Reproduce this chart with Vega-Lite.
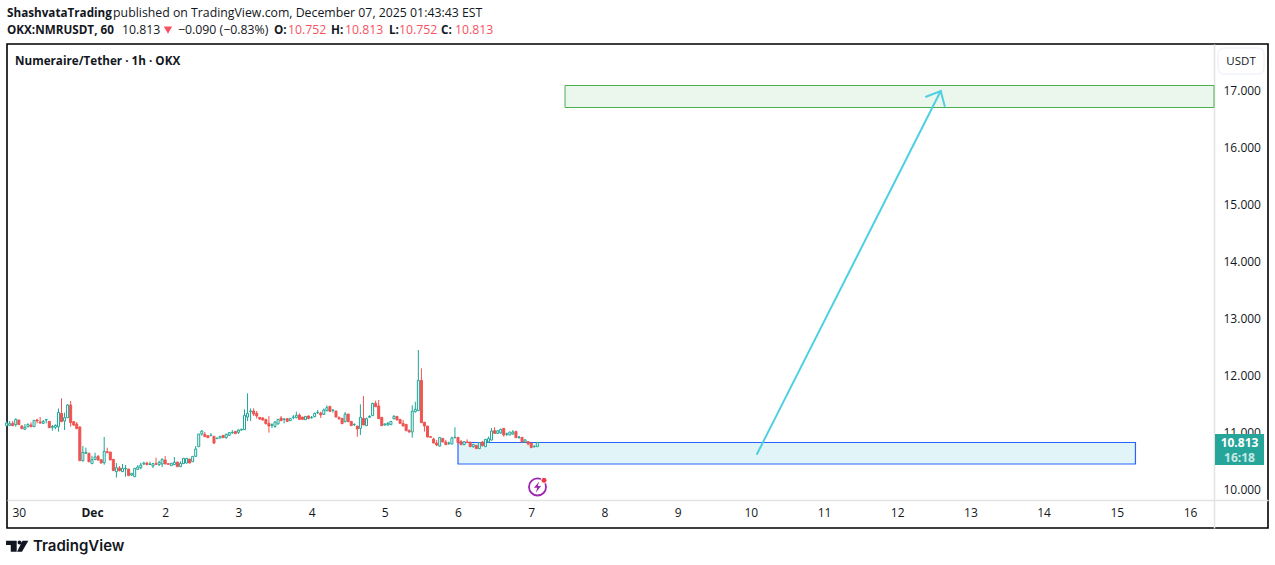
{
  "$schema": "https://vega.github.io/schema/vega-lite/v6.json",
  "description": "NMRUSDT 1h candles with buy zone, target zone and projected arrow",
  "width": 1261,
  "height": 484,
  "autosize": "none",
  "padding": {"left": 7, "top": 44, "right": 7, "bottom": 37},
  "background": "#ffffff",
  "config": {
    "font": "Open Sans",
    "view": {"stroke": "#000000", "strokeWidth": 1.6}
  },
  "datasets": {
    "candles": [
      {"t":"2025-11-29T20:00Z","o":11.096,"h":11.178,"l":11.078,"c":11.143},
      {"t":"2025-11-29T21:00Z","o":11.102,"h":11.178,"l":11.09,"c":11.131},
      {"t":"2025-11-29T22:00Z","o":11.137,"h":11.178,"l":11.09,"c":11.096},
      {"t":"2025-11-29T23:00Z","o":11.114,"h":11.225,"l":11.078,"c":11.207},
      {"t":"2025-11-30T00:00Z","o":11.196,"h":11.196,"l":11.114,"c":11.114},
      {"t":"2025-11-30T01:00Z","o":11.09,"h":11.108,"l":11.043,"c":11.043},
      {"t":"2025-11-30T02:00Z","o":11.032,"h":11.125,"l":11.032,"c":11.067},
      {"t":"2025-11-30T03:00Z","o":11.078,"h":11.137,"l":11.067,"c":11.119},
      {"t":"2025-11-30T04:00Z","o":11.108,"h":11.155,"l":11.078,"c":11.078},
      {"t":"2025-11-30T05:00Z","o":11.078,"h":11.19,"l":11.078,"c":11.19},
      {"t":"2025-11-30T06:00Z","o":11.196,"h":11.219,"l":11.137,"c":11.178},
      {"t":"2025-11-30T07:00Z","o":11.16,"h":11.248,"l":11.131,"c":11.143},
      {"t":"2025-11-30T08:00Z","o":11.137,"h":11.196,"l":11.125,"c":11.172},
      {"t":"2025-11-30T09:00Z","o":11.196,"h":11.207,"l":11.137,"c":11.207},
      {"t":"2025-11-30T10:00Z","o":11.172,"h":11.172,"l":11.061,"c":11.061},
      {"t":"2025-11-30T11:00Z","o":11.067,"h":11.108,"l":11.008,"c":11.084},
      {"t":"2025-11-30T12:00Z","o":11.067,"h":11.119,"l":11.032,"c":11.102},
      {"t":"2025-11-30T13:00Z","o":11.078,"h":11.4,"l":10.991,"c":11.33},
      {"t":"2025-11-30T14:00Z","o":11.313,"h":11.577,"l":11.166,"c":11.166},
      {"t":"2025-11-30T15:00Z","o":11.178,"h":11.325,"l":11.02,"c":11.237},
      {"t":"2025-11-30T16:00Z","o":11.237,"h":11.477,"l":11.237,"c":11.46},
      {"t":"2025-11-30T17:00Z","o":11.46,"h":11.53,"l":11.078,"c":11.149},
      {"t":"2025-11-30T18:00Z","o":11.166,"h":11.178,"l":11.09,"c":11.108},
      {"t":"2025-11-30T19:00Z","o":11.125,"h":11.16,"l":11.043,"c":11.043},
      {"t":"2025-11-30T20:00Z","o":11.073,"h":11.084,"l":10.48,"c":10.48},
      {"t":"2025-11-30T21:00Z","o":10.48,"h":10.738,"l":10.463,"c":10.627},
      {"t":"2025-11-30T22:00Z","o":10.61,"h":10.709,"l":10.598,"c":10.627},
      {"t":"2025-11-30T23:00Z","o":10.61,"h":10.621,"l":10.451,"c":10.463},
      {"t":"2025-12-01T00:00Z","o":10.428,"h":10.568,"l":10.422,"c":10.498},
      {"t":"2025-12-01T01:00Z","o":10.498,"h":10.621,"l":10.492,"c":10.545},
      {"t":"2025-12-01T02:00Z","o":10.557,"h":10.58,"l":10.48,"c":10.492},
      {"t":"2025-12-01T03:00Z","o":10.498,"h":10.498,"l":10.439,"c":10.439},
      {"t":"2025-12-01T04:00Z","o":10.445,"h":10.897,"l":10.41,"c":10.645},
      {"t":"2025-12-01T05:00Z","o":10.639,"h":10.709,"l":10.621,"c":10.621},
      {"t":"2025-12-01T06:00Z","o":10.633,"h":10.633,"l":10.492,"c":10.492},
      {"t":"2025-12-01T07:00Z","o":10.504,"h":10.504,"l":10.305,"c":10.305},
      {"t":"2025-12-01T08:00Z","o":10.287,"h":10.439,"l":10.182,"c":10.357},
      {"t":"2025-12-01T09:00Z","o":10.352,"h":10.387,"l":10.293,"c":10.305},
      {"t":"2025-12-01T10:00Z","o":10.287,"h":10.422,"l":10.287,"c":10.346},
      {"t":"2025-12-01T11:00Z","o":10.334,"h":10.404,"l":10.199,"c":10.346},
      {"t":"2025-12-01T12:00Z","o":10.334,"h":10.334,"l":10.217,"c":10.217},
      {"t":"2025-12-01T13:00Z","o":10.228,"h":10.258,"l":10.211,"c":10.258},
      {"t":"2025-12-01T14:00Z","o":10.199,"h":10.346,"l":10.199,"c":10.346},
      {"t":"2025-12-01T15:00Z","o":10.328,"h":10.404,"l":10.316,"c":10.369},
      {"t":"2025-12-01T16:00Z","o":10.357,"h":10.445,"l":10.328,"c":10.404},
      {"t":"2025-12-01T17:00Z","o":10.422,"h":10.463,"l":10.404,"c":10.439},
      {"t":"2025-12-01T18:00Z","o":10.439,"h":10.463,"l":10.404,"c":10.41},
      {"t":"2025-12-01T19:00Z","o":10.416,"h":10.463,"l":10.404,"c":10.422},
      {"t":"2025-12-01T20:00Z","o":10.387,"h":10.434,"l":10.352,"c":10.428},
      {"t":"2025-12-01T21:00Z","o":10.428,"h":10.533,"l":10.404,"c":10.416},
      {"t":"2025-12-01T22:00Z","o":10.41,"h":10.48,"l":10.387,"c":10.451},
      {"t":"2025-12-01T23:00Z","o":10.422,"h":10.522,"l":10.369,"c":10.504},
      {"t":"2025-12-02T00:00Z","o":10.492,"h":10.562,"l":10.422,"c":10.422},
      {"t":"2025-12-02T01:00Z","o":10.428,"h":10.428,"l":10.416,"c":10.416},
      {"t":"2025-12-02T02:00Z","o":10.393,"h":10.434,"l":10.393,"c":10.434},
      {"t":"2025-12-02T03:00Z","o":10.41,"h":10.545,"l":10.404,"c":10.451},
      {"t":"2025-12-02T04:00Z","o":10.457,"h":10.457,"l":10.375,"c":10.375},
      {"t":"2025-12-02T05:00Z","o":10.375,"h":10.469,"l":10.375,"c":10.434},
      {"t":"2025-12-02T06:00Z","o":10.428,"h":10.522,"l":10.428,"c":10.522},
      {"t":"2025-12-02T07:00Z","o":10.439,"h":10.522,"l":10.434,"c":10.522},
      {"t":"2025-12-02T08:00Z","o":10.51,"h":10.51,"l":10.439,"c":10.439},
      {"t":"2025-12-02T09:00Z","o":10.463,"h":10.557,"l":10.463,"c":10.557},
      {"t":"2025-12-02T10:00Z","o":10.557,"h":10.738,"l":10.551,"c":10.686},
      {"t":"2025-12-02T11:00Z","o":10.727,"h":10.95,"l":10.727,"c":10.95},
      {"t":"2025-12-02T12:00Z","o":10.95,"h":11.02,"l":10.92,"c":11.002},
      {"t":"2025-12-02T13:00Z","o":10.944,"h":10.985,"l":10.903,"c":10.903},
      {"t":"2025-12-02T14:00Z","o":10.92,"h":10.92,"l":10.885,"c":10.885},
      {"t":"2025-12-02T15:00Z","o":10.92,"h":10.967,"l":10.914,"c":10.926},
      {"t":"2025-12-02T16:00Z","o":10.909,"h":10.914,"l":10.774,"c":10.791},
      {"t":"2025-12-02T17:00Z","o":10.868,"h":10.879,"l":10.868,"c":10.879},
      {"t":"2025-12-02T18:00Z","o":10.879,"h":10.909,"l":10.879,"c":10.909},
      {"t":"2025-12-02T19:00Z","o":10.926,"h":10.926,"l":10.885,"c":10.885},
      {"t":"2025-12-02T20:00Z","o":10.885,"h":10.955,"l":10.868,"c":10.944},
      {"t":"2025-12-02T21:00Z","o":10.926,"h":10.985,"l":10.914,"c":10.973},
      {"t":"2025-12-02T22:00Z","o":10.967,"h":11.02,"l":10.961,"c":10.979},
      {"t":"2025-12-02T23:00Z","o":10.996,"h":10.996,"l":10.955,"c":10.955},
      {"t":"2025-12-03T00:00Z","o":10.979,"h":11.032,"l":10.95,"c":11.02},
      {"t":"2025-12-03T01:00Z","o":11.02,"h":11.043,"l":11.008,"c":11.032},
      {"t":"2025-12-03T02:00Z","o":11.026,"h":11.383,"l":11.026,"c":11.278},
      {"t":"2025-12-03T03:00Z","o":11.248,"h":11.665,"l":11.178,"c":11.313},
      {"t":"2025-12-03T04:00Z","o":11.342,"h":11.4,"l":11.178,"c":11.354},
      {"t":"2025-12-03T05:00Z","o":11.354,"h":11.4,"l":11.266,"c":11.301},
      {"t":"2025-12-03T06:00Z","o":11.313,"h":11.354,"l":11.225,"c":11.266},
      {"t":"2025-12-03T07:00Z","o":11.243,"h":11.243,"l":11.196,"c":11.213},
      {"t":"2025-12-03T08:00Z","o":11.231,"h":11.248,"l":11.184,"c":11.196},
      {"t":"2025-12-03T09:00Z","o":11.201,"h":11.219,"l":11.119,"c":11.131},
      {"t":"2025-12-03T10:00Z","o":11.137,"h":11.266,"l":10.973,"c":11.09},
      {"t":"2025-12-03T11:00Z","o":11.102,"h":11.137,"l":11.055,"c":11.114},
      {"t":"2025-12-03T12:00Z","o":11.084,"h":11.178,"l":11.061,"c":11.16},
      {"t":"2025-12-03T13:00Z","o":11.125,"h":11.207,"l":11.125,"c":11.207},
      {"t":"2025-12-03T14:00Z","o":11.231,"h":11.266,"l":11.184,"c":11.184},
      {"t":"2025-12-03T15:00Z","o":11.207,"h":11.225,"l":11.137,"c":11.213},
      {"t":"2025-12-03T16:00Z","o":11.219,"h":11.231,"l":11.16,"c":11.172},
      {"t":"2025-12-03T17:00Z","o":11.184,"h":11.225,"l":11.184,"c":11.225},
      {"t":"2025-12-03T18:00Z","o":11.243,"h":11.284,"l":11.207,"c":11.248},
      {"t":"2025-12-03T19:00Z","o":11.237,"h":11.342,"l":11.225,"c":11.278},
      {"t":"2025-12-03T20:00Z","o":11.284,"h":11.313,"l":11.196,"c":11.207},
      {"t":"2025-12-03T21:00Z","o":11.248,"h":11.248,"l":11.207,"c":11.207},
      {"t":"2025-12-03T22:00Z","o":11.201,"h":11.26,"l":11.201,"c":11.26},
      {"t":"2025-12-03T23:00Z","o":11.266,"h":11.278,"l":11.207,"c":11.225},
      {"t":"2025-12-04T00:00Z","o":11.237,"h":11.266,"l":11.219,"c":11.243},
      {"t":"2025-12-04T01:00Z","o":11.254,"h":11.325,"l":11.243,"c":11.313},
      {"t":"2025-12-04T02:00Z","o":11.325,"h":11.372,"l":11.301,"c":11.33},
      {"t":"2025-12-04T03:00Z","o":11.319,"h":11.342,"l":11.231,"c":11.284},
      {"t":"2025-12-04T04:00Z","o":11.295,"h":11.4,"l":11.284,"c":11.372},
      {"t":"2025-12-04T05:00Z","o":11.36,"h":11.454,"l":11.348,"c":11.412},
      {"t":"2025-12-04T06:00Z","o":11.436,"h":11.436,"l":11.348,"c":11.348},
      {"t":"2025-12-04T07:00Z","o":11.366,"h":11.383,"l":11.325,"c":11.372},
      {"t":"2025-12-04T08:00Z","o":11.354,"h":11.354,"l":11.248,"c":11.248},
      {"t":"2025-12-04T09:00Z","o":11.243,"h":11.254,"l":11.196,"c":11.219},
      {"t":"2025-12-04T10:00Z","o":11.225,"h":11.225,"l":11.131,"c":11.131},
      {"t":"2025-12-04T11:00Z","o":11.166,"h":11.336,"l":11.155,"c":11.301},
      {"t":"2025-12-04T12:00Z","o":11.301,"h":11.301,"l":11.166,"c":11.166},
      {"t":"2025-12-04T13:00Z","o":11.172,"h":11.172,"l":11.096,"c":11.096},
      {"t":"2025-12-04T14:00Z","o":11.114,"h":11.137,"l":11.09,"c":11.119},
      {"t":"2025-12-04T15:00Z","o":11.09,"h":11.09,"l":10.903,"c":11.037},
      {"t":"2025-12-04T16:00Z","o":11.049,"h":11.471,"l":10.932,"c":11.243},
      {"t":"2025-12-04T17:00Z","o":11.225,"h":11.618,"l":11.108,"c":11.108},
      {"t":"2025-12-04T18:00Z","o":11.096,"h":11.237,"l":11.096,"c":11.219},
      {"t":"2025-12-04T19:00Z","o":11.243,"h":11.278,"l":11.237,"c":11.26},
      {"t":"2025-12-04T20:00Z","o":11.272,"h":11.5,"l":11.266,"c":11.489},
      {"t":"2025-12-04T21:00Z","o":11.489,"h":11.536,"l":11.43,"c":11.43},
      {"t":"2025-12-04T22:00Z","o":11.442,"h":11.547,"l":11.219,"c":11.219},
      {"t":"2025-12-04T23:00Z","o":11.243,"h":11.243,"l":11.096,"c":11.096},
      {"t":"2025-12-05T00:00Z","o":11.108,"h":11.137,"l":11.096,"c":11.125},
      {"t":"2025-12-05T01:00Z","o":11.108,"h":11.16,"l":11.096,"c":11.137},
      {"t":"2025-12-05T02:00Z","o":11.114,"h":11.172,"l":11.114,"c":11.172},
      {"t":"2025-12-05T03:00Z","o":11.219,"h":11.284,"l":11.207,"c":11.26},
      {"t":"2025-12-05T04:00Z","o":11.26,"h":11.26,"l":11.196,"c":11.196},
      {"t":"2025-12-05T05:00Z","o":11.207,"h":11.207,"l":11.137,"c":11.137},
      {"t":"2025-12-05T06:00Z","o":11.137,"h":11.196,"l":11.09,"c":11.09},
      {"t":"2025-12-05T07:00Z","o":11.119,"h":11.119,"l":11.008,"c":11.008},
      {"t":"2025-12-05T08:00Z","o":11.008,"h":11.032,"l":10.973,"c":10.985},
      {"t":"2025-12-05T09:00Z","o":10.985,"h":11.454,"l":10.885,"c":11.348},
      {"t":"2025-12-05T10:00Z","o":11.342,"h":11.518,"l":11.325,"c":11.383},
      {"t":"2025-12-05T11:00Z","o":11.36,"h":12.427,"l":11.36,"c":11.893},
      {"t":"2025-12-05T12:00Z","o":11.893,"h":12.104,"l":11.149,"c":11.149},
      {"t":"2025-12-05T13:00Z","o":11.155,"h":11.166,"l":10.991,"c":11.09},
      {"t":"2025-12-05T14:00Z","o":11.09,"h":11.09,"l":10.891,"c":10.897},
      {"t":"2025-12-05T15:00Z","o":10.903,"h":10.903,"l":10.891,"c":10.891},
      {"t":"2025-12-05T16:00Z","o":10.862,"h":10.885,"l":10.785,"c":10.791},
      {"t":"2025-12-05T17:00Z","o":10.791,"h":10.844,"l":10.738,"c":10.756},
      {"t":"2025-12-05T18:00Z","o":10.738,"h":10.897,"l":10.727,"c":10.885},
      {"t":"2025-12-05T19:00Z","o":10.873,"h":10.873,"l":10.809,"c":10.809},
      {"t":"2025-12-05T20:00Z","o":10.809,"h":10.844,"l":10.756,"c":10.762},
      {"t":"2025-12-05T21:00Z","o":10.785,"h":10.815,"l":10.756,"c":10.791},
      {"t":"2025-12-05T22:00Z","o":10.774,"h":10.903,"l":10.768,"c":10.879},
      {"t":"2025-12-05T23:00Z","o":10.885,"h":11.067,"l":10.873,"c":10.891},
      {"t":"2025-12-06T00:00Z","o":10.891,"h":10.891,"l":10.797,"c":10.797},
      {"t":"2025-12-06T01:00Z","o":10.815,"h":10.844,"l":10.756,"c":10.762},
      {"t":"2025-12-06T02:00Z","o":10.762,"h":10.815,"l":10.762,"c":10.815},
      {"t":"2025-12-06T03:00Z","o":10.809,"h":10.856,"l":10.791,"c":10.803},
      {"t":"2025-12-06T04:00Z","o":10.809,"h":10.809,"l":10.727,"c":10.727},
      {"t":"2025-12-06T05:00Z","o":10.727,"h":10.774,"l":10.709,"c":10.768},
      {"t":"2025-12-06T06:00Z","o":10.75,"h":10.75,"l":10.692,"c":10.692},
      {"t":"2025-12-06T07:00Z","o":10.692,"h":10.797,"l":10.692,"c":10.797},
      {"t":"2025-12-06T08:00Z","o":10.809,"h":10.827,"l":10.733,"c":10.744},
      {"t":"2025-12-06T09:00Z","o":10.727,"h":10.856,"l":10.727,"c":10.856},
      {"t":"2025-12-06T10:00Z","o":10.809,"h":10.903,"l":10.797,"c":10.868},
      {"t":"2025-12-06T11:00Z","o":10.844,"h":11.055,"l":10.832,"c":11.002},
      {"t":"2025-12-06T12:00Z","o":11.008,"h":11.067,"l":10.95,"c":10.961},
      {"t":"2025-12-06T13:00Z","o":10.961,"h":11.008,"l":10.961,"c":11.008},
      {"t":"2025-12-06T14:00Z","o":10.967,"h":11.043,"l":10.955,"c":11.032},
      {"t":"2025-12-06T15:00Z","o":11.049,"h":11.049,"l":10.903,"c":10.932},
      {"t":"2025-12-06T16:00Z","o":10.944,"h":10.973,"l":10.914,"c":10.955},
      {"t":"2025-12-06T17:00Z","o":10.932,"h":10.985,"l":10.932,"c":10.985},
      {"t":"2025-12-06T18:00Z","o":10.95,"h":11.02,"l":10.938,"c":10.985},
      {"t":"2025-12-06T19:00Z","o":10.996,"h":10.996,"l":10.885,"c":10.885},
      {"t":"2025-12-06T20:00Z","o":10.885,"h":10.914,"l":10.868,"c":10.897},
      {"t":"2025-12-06T21:00Z","o":10.891,"h":10.891,"l":10.809,"c":10.809},
      {"t":"2025-12-06T22:00Z","o":10.809,"h":10.862,"l":10.797,"c":10.844},
      {"t":"2025-12-06T23:00Z","o":10.815,"h":10.821,"l":10.75,"c":10.774},
      {"t":"2025-12-07T00:00Z","o":10.791,"h":10.791,"l":10.709,"c":10.709},
      {"t":"2025-12-07T01:00Z","o":10.727,"h":10.75,"l":10.709,"c":10.733},
      {"t":"2025-12-07T02:00Z","o":10.727,"h":10.803,"l":10.727,"c":10.803}
    ],
    "arrow": [
      {"part":"shaft","n":1,"t":"2025-12-10T02:02Z","p":10.598},
      {"part":"shaft","n":2,"t":"2025-12-12T14:16Z","p":16.982},
      {"part":"head","n":1,"t":"2025-12-12T09:26Z","p":16.882},
      {"part":"head","n":2,"t":"2025-12-12T14:16Z","p":16.982},
      {"part":"head","n":3,"t":"2025-12-12T15:34Z","p":16.719}
    ],
    "labels": [
      {"kind":"bold","text":"ShashvataTrading","t":"2025-11-29T20:08Z","p":18.36},
      {"kind":"regular","text":"published on TradingView.com, December 07, 2025 01:43:43 EST","t":"2025-12-01T06:55Z","p":18.36},
      {"kind":"bold","text":"OKX:NMRUSDT, 60","t":"2025-11-29T20:08Z","p":18.06},
      {"kind":"regular","text":"10.813","t":"2025-12-01T09:50Z","p":18.06},
      {"kind":"regular","text":"−0.090 (−0.83%)","t":"2025-12-02T04:12Z","p":18.06},
      {"kind":"bold","text":"O:","t":"2025-12-03T11:40Z","p":18.06},
      {"kind":"red","text":"10.752","t":"2025-12-03T16:16Z","p":18.06},
      {"kind":"bold","text":"H:","t":"2025-12-04T06:22Z","p":18.06},
      {"kind":"red","text":"10.813","t":"2025-12-04T10:57Z","p":18.06},
      {"kind":"bold","text":"L:","t":"2025-12-05T01:23Z","p":18.06},
      {"kind":"red","text":"10.752","t":"2025-12-05T04:39Z","p":18.06},
      {"kind":"bold","text":"C:","t":"2025-12-05T18:26Z","p":18.06},
      {"kind":"red","text":"10.813","t":"2025-12-05T23:01Z","p":18.06},
      {"kind":"bold","text":"Numeraire/Tether · 1h · OKX","t":"2025-11-29T22:45Z","p":17.51}
    ]
  },
  "encoding": {
    "x": {
      "field": "t",
      "type": "temporal",
      "title": null,
      "scale": {"type": "utc", "domain": [1764446872320, 1765935267840], "padding": 0},
      "axis": {
        "orient": "bottom",
        "offset": -28,
        "values": [1764460800000, 1764547200000, 1764633600000, 1764720000000, 1764806400000, 1764892800000, 1764979200000, 1765065600000, 1765152000000, 1765238400000, 1765324800000, 1765411200000, 1765497600000, 1765584000000, 1765670400000, 1765756800000, 1765843200000],
        "labelExpr": "utcdate(datum.value) == 1 ? 'Dec' : utcdate(datum.value)",
        "labelFontWeight": {"condition": {"test": "utcdate(datum.value) == 1", "value": "bold"}, "value": "normal"},
        "labelFontSize": 12,
        "labelColor": "#131722",
        "labelPadding": 7,
        "labelFlush": false,
        "labelOverlap": false,
        "ticks": false,
        "grid": false,
        "domainColor": "#e3e3e3",
        "domainWidth": 1.5
      }
    },
    "y": {
      "type": "quantitative",
      "title": null,
      "scale": {"domain": [9.2965, 17.809], "nice": false, "zero": false},
      "axis": {
        "orient": "right",
        "offset": -54,
        "values": [10, 11, 12, 13, 14, 15, 16, 17],
        "format": ".3f",
        "labelFontSize": 12,
        "labelColor": "#131722",
        "labelPadding": 9,
        "labelOffset": 1,
        "ticks": false,
        "grid": false,
        "domainColor": "#e3e3e3",
        "domainWidth": 1.5
      }
    }
  },
  "layer": [
    {
      "data": {"values": [{"t":"2025-12-07T11:05Z","t2":"2025-12-16T07:52Z","p":17.079,"p2":16.692}]},
      "mark": {"type": "rect", "fill": "#ebf6ec", "stroke": "#4caf50", "strokeWidth": 1},
      "encoding": {"x2": {"field": "t2"}, "y": {"field": "p"}, "y2": {"field": "p2"}}
    },
    {
      "data": {"values": [{"t":"2025-12-06T00:00Z","t2":"2025-12-15T06:07Z","p":10.8,"p2":10.422}]},
      "mark": {"type": "rect", "fill": "#e1f5f9", "stroke": "#2962ff", "strokeWidth": 1.2},
      "encoding": {"x2": {"field": "t2"}, "y": {"field": "p"}, "y2": {"field": "p2"}}
    },
    {
      "data": {"name": "candles"},
      "mark": {"type": "rule", "strokeWidth": 1},
      "encoding": {
        "y": {"field": "l"},
        "y2": {"field": "h"},
        "color": {"condition": {"test": "datum.c >= datum.o", "value": "#1fa596"}, "value": "#ef5350"}
      }
    },
    {
      "data": {"name": "candles"},
      "mark": {"type": "bar", "orient": "vertical", "size": 2, "strokeWidth": 1},
      "encoding": {
        "y": {"field": "o"},
        "y2": {"field": "c"},
        "fill": {"condition": {"test": "datum.c >= datum.o", "value": "#ffffff"}, "value": "#ef5350"},
        "stroke": {"condition": {"test": "datum.c >= datum.o", "value": "#1fa596"}, "value": "#ef5350"}
      }
    },
    {
      "data": {"name": "arrow"},
      "mark": {"type": "line", "color": "#4dd0e1", "strokeWidth": 2, "strokeCap": "round", "strokeJoin": "miter"},
      "encoding": {
        "y": {"field": "p"},
        "detail": {"field": "part"},
        "order": {"field": "n"}
      }
    },
    {
      "data": {"values": [{"t":"2025-12-07T02:04Z","p":10.018}]},
      "mark": {"type": "point", "shape": "circle", "size": 290, "filled": false, "stroke": "#9c27b0", "strokeWidth": 1.8, "opacity": 1},
      "encoding": {"y": {"field": "p"}}
    },
    {
      "data": {"values": [{"t":"2025-12-07T02:04Z","p":10.018}]},
      "mark": {"type": "point", "shape": "M0.3,-1 L-0.65,0.15 L-0.05,0.15 L-0.3,1 L0.65,-0.2 L0.05,-0.2 Z", "size": 120, "filled": true, "fill": "#9c27b0", "opacity": 1},
      "encoding": {"y": {"field": "p"}}
    },
    {
      "data": {"values": [{"t":"2025-12-07T04:12Z","p":10.135}]},
      "mark": {"type": "point", "shape": "circle", "size": 36, "filled": true, "fill": "#f23645", "stroke": "#ffffff", "strokeWidth": 1, "opacity": 1},
      "encoding": {"y": {"field": "p"}}
    },
    {
      "data": {"values": [{"t":"2025-12-16T08:12Z","t2":"2025-12-17T00:16Z","p":10.95,"p2":10.404}]},
      "mark": {"type": "rect", "fill": "#26a69a"},
      "encoding": {"x2": {"field": "t2"}, "y": {"field": "p"}, "y2": {"field": "p2"}}
    },
    {
      "data": {"values": [{"t":"2025-12-16T09:12Z","t2":"2025-12-17T00:16Z","p":17.738,"p2":17.281}]},
      "mark": {"type": "rect", "fill": "#ffffff", "stroke": "#f0f3fa", "strokeWidth": 1.5, "cornerRadius": 6},
      "encoding": {"x2": {"field": "t2"}, "y": {"field": "p"}, "y2": {"field": "p2"}}
    },
    {
      "data": {"values": [{"t":"2025-12-16T16:44Z","p":17.495,"text":"USDT"}]},
      "mark": {"type": "text", "align": "center", "baseline": "middle", "fontSize": 11.5, "color": "#131722"},
      "encoding": {"y": {"field": "p"}, "text": {"field": "text"}}
    },
    {
      "data": {"values": [{"t":"2025-12-16T16:14Z","p":10.79,"text":"10.813"}]},
      "mark": {"type": "text", "align": "center", "baseline": "middle", "fontSize": 12, "fontWeight": "bold", "color": "#ffffff"},
      "encoding": {"y": {"field": "p"}, "text": {"field": "text"}}
    },
    {
      "data": {"values": [{"t":"2025-12-16T16:14Z","p":10.535,"text":"16:18"}]},
      "mark": {"type": "text", "align": "center", "baseline": "middle", "fontSize": 12, "fontWeight": "bold", "color": "#ffffff", "opacity": 0.75},
      "encoding": {"y": {"field": "p"}, "text": {"field": "text"}}
    },
    {
      "data": {"name": "labels"},
      "transform": [{"filter": "datum.kind == 'bold'"}],
      "mark": {"type": "text", "align": "left", "baseline": "middle", "fontSize": 11.7, "fontWeight": "bold", "color": "#131722"},
      "encoding": {"y": {"field": "p"}, "text": {"field": "text"}}
    },
    {
      "data": {"name": "labels"},
      "transform": [{"filter": "datum.kind == 'regular'"}],
      "mark": {"type": "text", "align": "left", "baseline": "middle", "fontSize": 12.3, "color": "#131722"},
      "encoding": {"y": {"field": "p"}, "text": {"field": "text"}}
    },
    {
      "data": {"name": "labels"},
      "transform": [{"filter": "datum.kind == 'red'"}],
      "mark": {"type": "text", "align": "left", "baseline": "middle", "fontSize": 12.3, "color": "#f7525f"},
      "encoding": {"y": {"field": "p"}, "text": {"field": "text"}}
    },
    {
      "data": {"values": [{"t":"2025-12-02T00:55Z","p":18.055}]},
      "mark": {"type": "point", "shape": "triangle-down", "size": 70, "filled": true, "fill": "#f7525f", "opacity": 1},
      "encoding": {"y": {"field": "p"}}
    },
    {
      "data": {"values": [{"t":"2025-11-29T23:25Z","p":8.98}]},
      "mark": {"type": "point", "shape": "M-1,-0.48 L-0.03,-0.48 L-0.03,0.52 L-0.57,0.52 L-0.57,-0.09 L-1,-0.09 Z M0.05,-0.32 A0.18,0.18 0 1 1 0.41,-0.32 A0.18,0.18 0 1 1 0.05,-0.32 Z M0.5,-0.48 L1.03,-0.48 L0.45,0.52 L0,0.52 Z", "size": 484, "filled": true, "fill": "#131722", "opacity": 1},
      "encoding": {"y": {"field": "p"}}
    },
    {
      "data": {"values": [{"t":"2025-11-30T04:39Z","p":8.98,"text":"TradingView"}]},
      "mark": {"type": "text", "align": "left", "baseline": "middle", "fontSize": 15, "fontWeight": 600, "font": "Inter", "color": "#131722"},
      "encoding": {"y": {"field": "p"}, "text": {"field": "text"}}
    }
  ]
}
